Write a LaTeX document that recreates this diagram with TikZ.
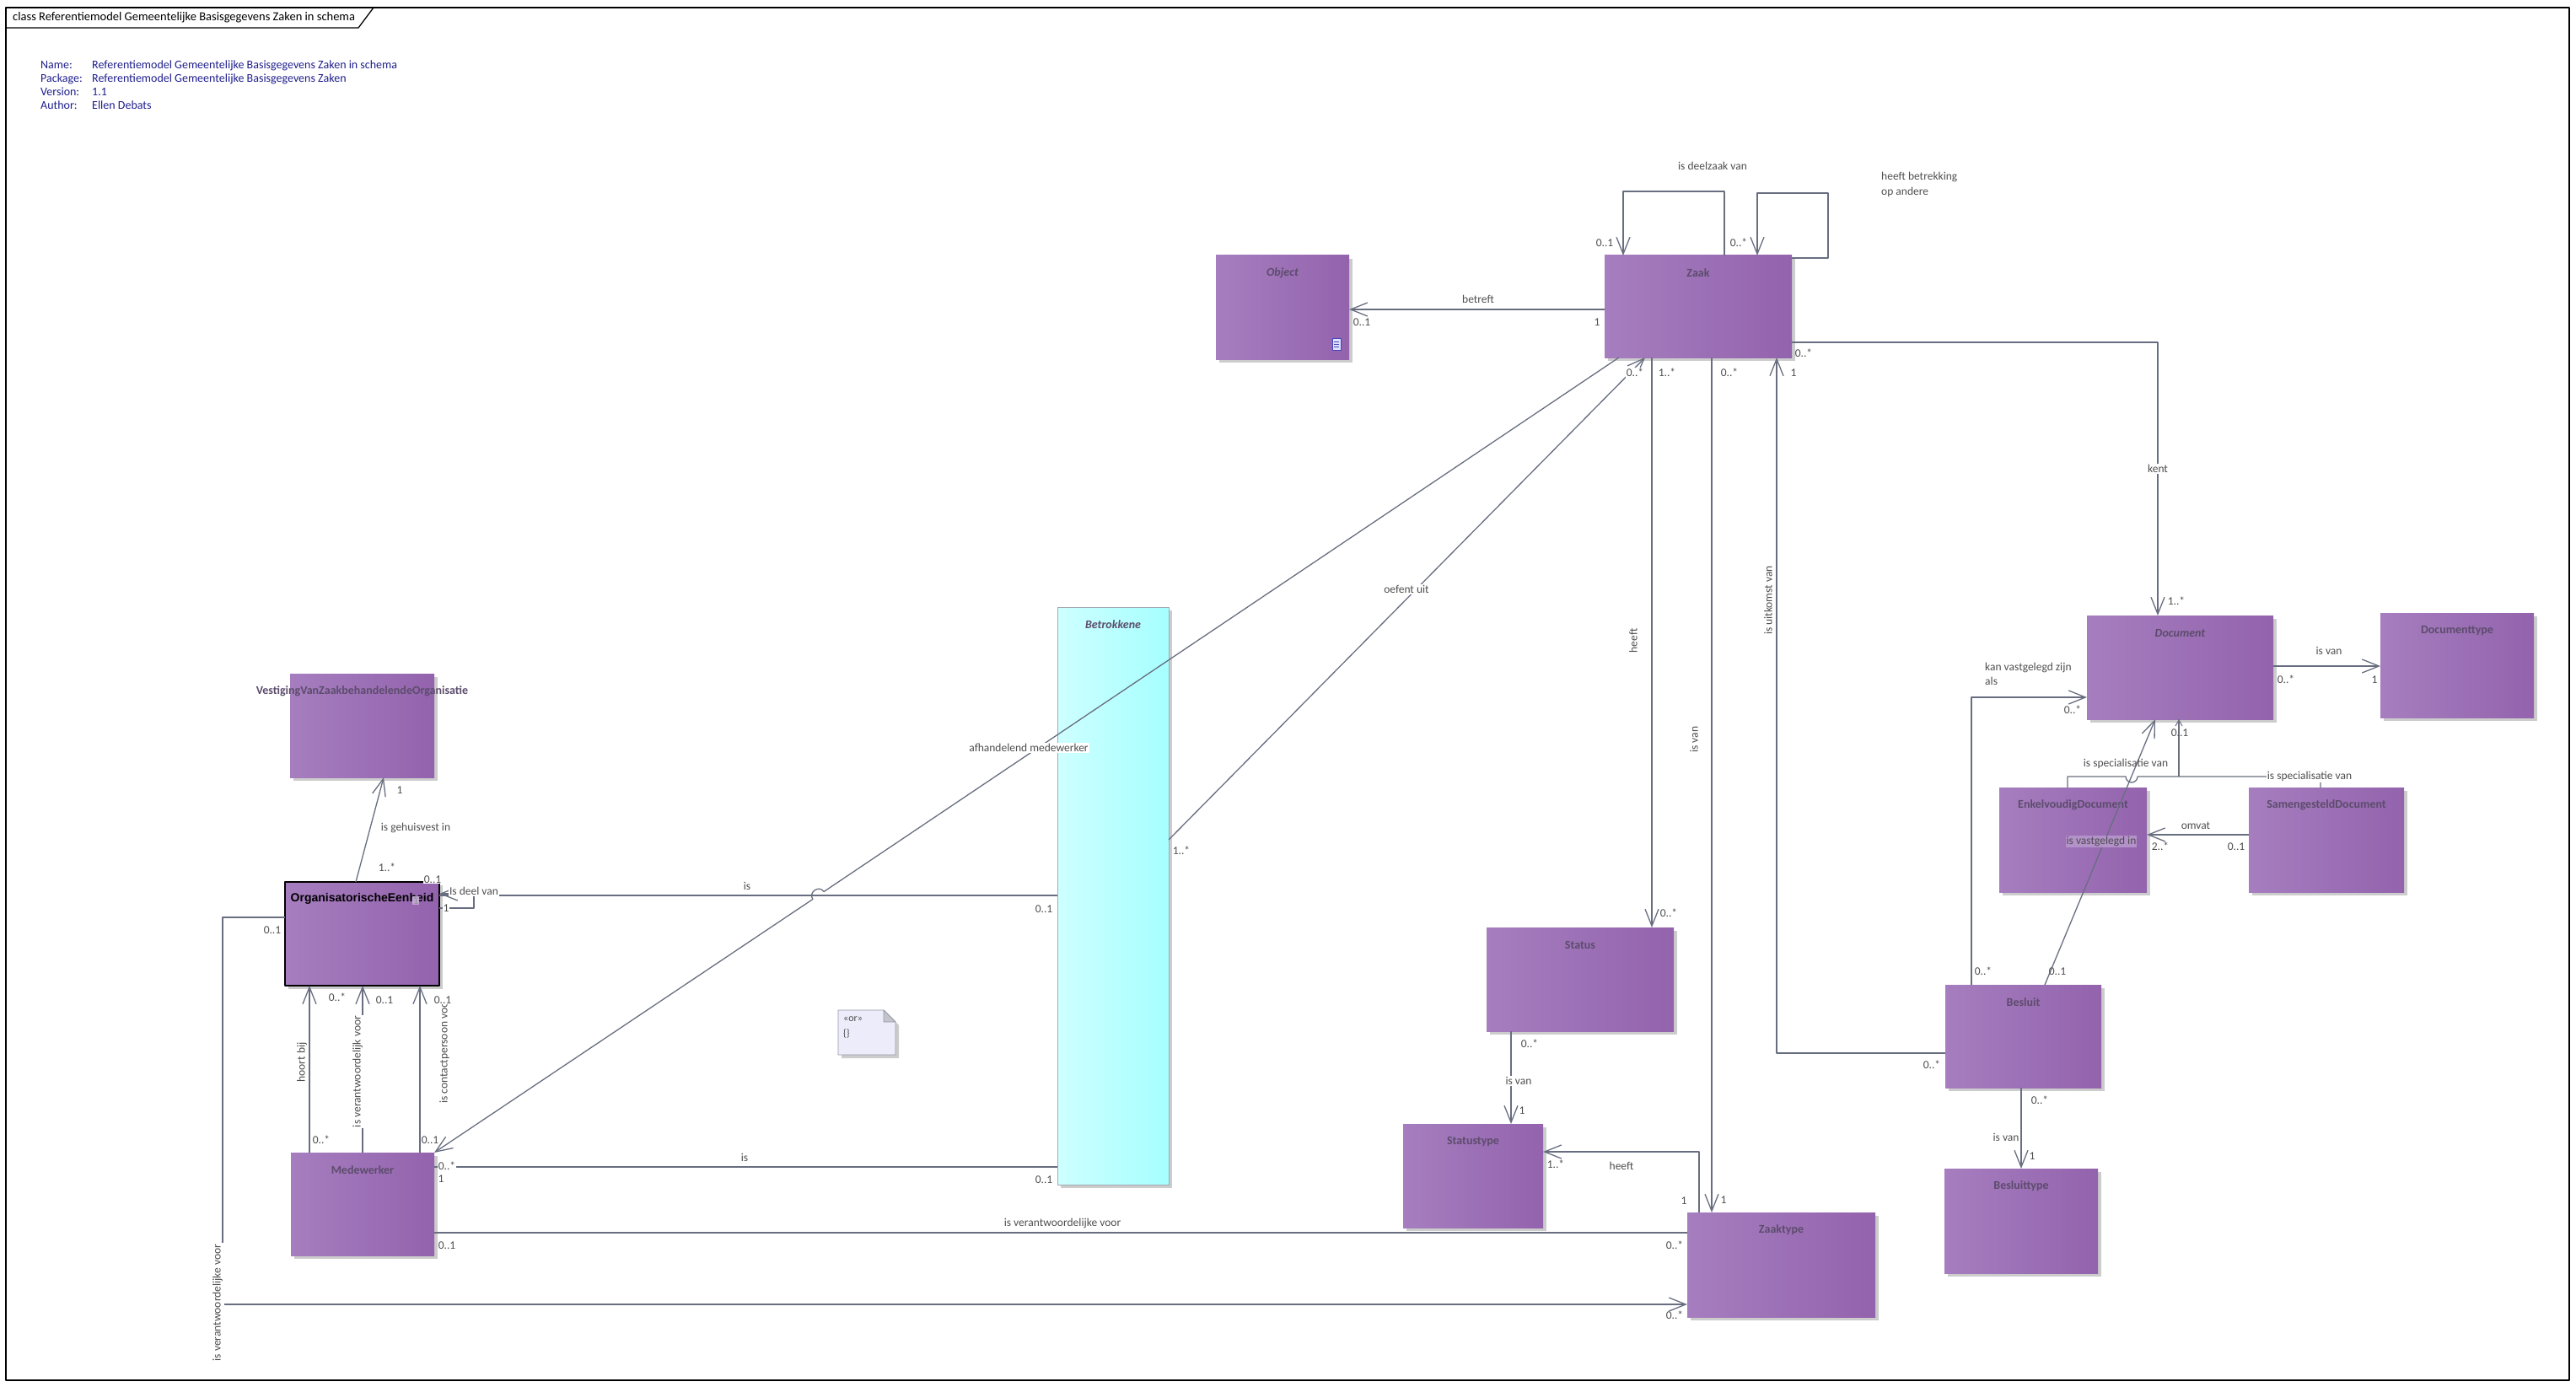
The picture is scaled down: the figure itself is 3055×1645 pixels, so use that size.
\documentclass[tikz,border=0pt]{standalone}
\usepackage{fontspec}
\setmainfont{Carlito}
\newfontfamily\arialfont{Liberation Sans}
\usetikzlibrary{arrows.meta,shadows}
\definecolor{paarsL}{RGB}{166,126,191}
\definecolor{paarsR}{RGB}{147,99,173}
\definecolor{cyaanL}{RGB}{206,255,255}
\definecolor{cyaanR}{RGB}{166,255,255}
\definecolor{lijn}{RGB}{104,110,128}
\definecolor{tekst}{RGB}{78,78,78}
\definecolor{titelkleur}{RGB}{92,76,108}
\definecolor{schaduw}{RGB}{204,204,204}
\definecolor{inkt}{RGB}{30,30,140}
\definecolor{notitie}{RGB}{236,236,250}
\begin{document}
\begin{tikzpicture}[x=1pt, y=-1pt, font=\fontsize{13.5}{16}\selectfont, line join=round, >={Straight Barb[length=20pt,width=16pt]}]
	\tikzset{klasse/.style n args={2}{rectangle, inner sep=0pt, outer sep=0pt, anchor=north west, minimum width=#1, minimum height=#2, left color=paarsL, right color=paarsR, drop shadow={shadow xshift=4pt, shadow yshift=-4pt, fill=schaduw, opacity=1}},
		titel/.style={label={[font=\fontsize{14}{16}\selectfont\bfseries, text=titelkleur, anchor=center, yshift=-21pt]north:#1}},
		schuintitel/.style={label={[font=\fontsize{14}{16}\selectfont\bfseries\itshape, text=titelkleur, anchor=center, yshift=-21pt]north:#1}},
		kopregel/.style={anchor=base west, inner sep=0pt, text=inkt, font=\fontsize{14}{16}\selectfont},
		assoc/.style={draw=lijn, line width=1.3pt},
		pijl/.style={assoc, ->},
		mult/.style={text=tekst, inner sep=1pt},
		wit/.style={mult, fill=white}}
	\useasboundingbox (0,0) rectangle (3055,1645);
	% kader
	\draw[line width=1.3pt] (7,9) rectangle (3047,1637);
	\draw[line width=1.3pt] (7,33) -- (425,33) -- (443,9);
	\node[anchor=west, inner sep=0pt, font=\fontsize{14.5}{16}\selectfont] (kop) at (15,21) {class Referentiemodel Gemeentelijke Basisgegevens Zaken in schema};
	\node[kopregel] (naam) at (48,82) {\makebox[61pt][l]{Name:}Referentiemodel Gemeentelijke Basisgegevens Zaken in schema};
	\node[kopregel] (pakket) at (48,98) {\makebox[61pt][l]{Package:}Referentiemodel Gemeentelijke Basisgegevens Zaken};
	\node[kopregel] (versie) at (48,114) {\makebox[61pt][l]{Version:}1.1};
	\node[kopregel] (auteur) at (48,130) {\makebox[61pt][l]{Author:}Ellen Debats};

	% klassen
	\node[klasse={158pt}{123pt}, schuintitel=Object] (object) at (1442,303) {};
	\node[klasse={222pt}{121pt}, titel=Zaak] (zaak) at (1903,303) {};
	\node[klasse={221pt}{123pt}, schuintitel=Document] (document) at (2475,730) {};
	\node[klasse={182pt}{124pt}, titel=Documenttype] (doctype) at (2823,727) {};
	\node[klasse={175pt}{124pt}, titel=EnkelvoudigDocument] (enkel) at (2371,934) {};
	\node[klasse={184pt}{124pt}, titel=SamengesteldDocument] (samen) at (2667,934) {};
	\node[klasse={185pt}{122pt}, titel=Besluit] (besluit) at (2307,1168) {};
	\node[klasse={182pt}{124pt}, titel=Besluittype] (besluittype) at (2306,1386) {};
	\node[klasse={222pt}{123pt}, titel=Status] (status) at (1763,1100) {};
	\node[klasse={166pt}{123pt}, titel=Statustype] (statustype) at (1664,1333) {};
	\node[klasse={223pt}{124pt}, titel=Zaaktype] (zaaktype) at (2001,1438) {};
	\node[klasse={171pt}{123pt}, titel=VestigingVanZaakbehandelendeOrganisatie] (vestiging) at (344,799) {};
	\node[klasse={183pt}{123pt}, draw=black, line width=1.6pt, label={[font={\arialfont\bfseries\fontsize{14}{16}\selectfont}, text=black, anchor=center, yshift=-20pt]north:OrganisatorischeEenheid}] (oe) at (338,1046) {};
	\node[klasse={170pt}{122pt}, titel=Medewerker] (medewerker) at (345,1367) {};
	\node[klasse={132pt}{685pt}, left color=cyaanL, right color=cyaanR, draw=lijn!60, line width=0.8pt, schuintitel=Betrokkene] (betrokkene) at (1254,720) {};

	% icoon en notitie
	\draw[fill=blue!12, draw=blue!45!gray, line width=0.8pt] (1580,401) rectangle (1590,415);
	\draw[blue!45!gray, line width=0.8pt] (1582,405) -- (1588,405) (1582,408) -- (1588,408) (1582,411) -- (1588,411);
	\fill[schaduw] (998,1202) -- (1052,1202) -- (1066,1216) -- (1066,1255) -- (998,1255) -- cycle;
	\draw[fill=notitie, draw=lijn!70, line width=0.8pt] (994,1198) -- (1048,1198) -- (1062,1212) -- (1062,1251) -- (994,1251) -- cycle;
	\draw[fill=lijn!40, draw=lijn!70, line width=0.8pt] (1048,1198) -- (1048,1212) -- (1062,1212) -- cycle;
	\node[anchor=west, mult, font=\fontsize{12}{14}\selectfont] (ornaam) at (999,1209) {«or»};
	\node[anchor=west, mult, font=\fontsize{12}{14}\selectfont] (orinhoud) at (999,1226) {\{\}};

	% associaties
	\draw[pijl] (zaak.west |- 0,367) -- (object.east |- 0,367);
	\draw[pijl] (2045,0 |- zaak.north) -- (2045,227) -- (1925,227) -- (1925,0 |- zaak.north);
	\draw[pijl] (zaak.east |- 0,306) -- (2168,306) -- (2168,229) -- (2084,229) -- (2084,0 |- zaak.north);
	\draw[pijl] (zaak.east |- 0,406) -- (2559,406) -- (2559,0 |- document.north);
	\draw[pijl] (1959,0 |- zaak.south) -- (1959,0 |- status.north);
	\draw[pijl] (2030,0 |- zaak.south) -- (2030,0 |- zaaktype.north);
	\draw[pijl] (besluit.west |- 0,1249) -- (2107,1249) -- (2107,0 |- zaak.south);
	\draw[pijl] (1920,0 |- zaak.south) -- (977.1,1057.5) .. controls (971.5,1049.2) and (958.3,1058.2) .. (963.9,1066.5) -- (medewerker.north east);
	\draw[pijl] (betrokkene.east |- 0,996) -- (1951,0 |- zaak.south);
	\draw[assoc] (betrokkene.west |- 0,1062) -- (oe.east |- 0,1062);
	\draw[assoc] (betrokkene.west |- 0,1384) -- (medewerker.east |- 0,1384);
	\draw[pijl] (oe.east |- 0,1077) -- (562,1077) -- (562,1060) -- (oe.east |- 0,1060);
	\draw[pijl] (422,0 |- oe.north) -- (455,0 |- vestiging.south);
	\draw[pijl] (367,0 |- medewerker.north) -- (367,0 |- oe.south);
	\draw[pijl] (430,0 |- medewerker.north) -- (430,0 |- oe.south);
	\draw[pijl] (498,0 |- medewerker.north) -- (498,0 |- oe.south);
	\draw[pijl] (oe.west |- 0,1088) -- (264,1088) -- (264,1547) -- (zaaktype.west |- 0,1547);
	\draw[assoc] (medewerker.east |- 0,1462) -- (zaaktype.west |- 0,1462);
	\draw[pijl] (1792,0 |- status.south) -- (1792,0 |- statustype.north);
	\draw[pijl] (2015,0 |- zaaktype.north) -- (2015,1366) -- (statustype.east |- 0,1366);
	\draw[pijl] (2397,0 |- besluit.south) -- (2397,0 |- besluittype.north);
	\draw[pijl] (2338,0 |- besluit.north) -- (2338,827) -- (document.west |- 0,827);
	\draw[pijl] (document.east |- 0,790) -- (doctype.west |- 0,790);
	\draw[pijl] (samen.west |- 0,990) -- (enkel.east |- 0,990);
	% specialisatie
	\draw[assoc] (2452,0 |- enkel.north) -- (2452,921) -- (2521,921) arc[start angle=180, end angle=0, radius=7] -- (2752,921) -- (2752,0 |- samen.north);
	\draw[assoc] (2584,921) -- (2584,0 |- document.south);
	\draw[assoc, line width=1pt] (2580,861) -- (2584,854) -- (2588,861);
	\draw[pijl] (2425,0 |- besluit.north) -- (2556,0 |- document.south);

	% teksten bij Zaak
	\node[mult] (ldeelzaak) at (2031,197) {is deelzaak van};
	\node[mult, anchor=west, align=left, font=\fontsize{13.5}{18}\selectfont] (lbetrekking) at (2230,219) {heeft betrekking\\op andere};
	\node[mult] (mdeel1) at (1903,288) {0..1};
	\node[mult] (mdeel2) at (2062,288) {0..*};
	\node[mult] (lbetreft) at (1753,355) {betreft};
	\node[mult] (mobject) at (1615,382) {0..1};
	\node[mult] (mzaak) at (1894,382) {1};
	\node[mult] (mkent1) at (2139,419) {0..*};
	\node[wit] (moefent1) at (1939,442) {0..*};
	\node[mult] (mheeft1) at (1977,442) {1..*};
	\node[mult] (misvan1) at (2051,442) {0..*};
	\node[mult] (muitkomst1) at (2127,442) {1};
	\node[wit] (lkent) at (2559,556) {kent};
	\node[mult] (mkent2) at (2581,713) {1..*};
	\node[mult, rotate=90] (lheeft) at (1937,760) {heeft};
	\node[mult, rotate=90] (lisvan) at (2009,877) {is van};
	\node[mult, rotate=90] (luitkomst) at (2097,712) {is uitkomst van};
	\node[wit] (loefent) at (1668,699) {oefent uit};
	\node[mult] (moefent2) at (1401,1009) {1..*};
	\node[wit] (lafhandelend) at (1220,887) {afhandelend medewerker};
	% teksten links
	\node[mult] (lis1) at (886,1051) {is};
	\node[mult] (mis1b) at (1238,1078) {0..1};
	\node[mult, fill=paarsL!70!white, text=tekst!60] (mis1o) at (493,1068) {1};
	\node[mult] (lis2) at (883,1373) {is};
	\node[mult] (mis2b) at (1238,1399) {0..1};
	\node[wit] (mis2m) at (530,1383) {0..*};
	\node[mult] (mis2m1) at (523,1398) {1};
	\node[wit] (mdeel3) at (513,1043) {0..1};
	\node[wit] (ldeelvan) at (562,1057) {Is deel van};
	\node[wit] (mdeel4) at (529,1077) {1};
	\node[mult] (mvest1) at (474,937) {1};
	\node[mult] (lgehuisvest) at (493,982) {is gehuisvest in};
	\node[mult] (mvest2) at (459,1029) {1..*};
	\node[mult] (mhoort1) at (400,1183) {0..*};
	\node[mult] (mhoort2) at (381,1352) {0..*};
	\node[mult, rotate=90] (lhoort) at (358,1260) {hoort bij};
	\node[mult] (mverantw1) at (456,1186) {0..1};
	\node[wit, rotate=90] (lverantw) at (424,1271) {is verantwoordelijk voor};
	\node[mult, rotate=90, anchor=west] (lcontact) at (527,1310) {is contactpersoon voor};
	\node[wit] (mcontact1) at (525,1186) {0..1};
	\node[mult] (mcontact2) at (510,1352) {0..1};
	\node[mult] (moezt1) at (323,1103) {0..1};
	\node[wit, rotate=90, inner sep=2pt] (loezt) at (258,1545) {is verantwoordelijke voor};
	\node[mult] (moezt2) at (1986,1560) {0..*};
	\node[mult] (mmzt1) at (530,1477) {0..1};
	\node[mult] (lmzt) at (1260,1451) {is verantwoordelijke voor};
	\node[mult] (mmzt2) at (1986,1477) {0..*};
	% teksten bij Status en Zaaktype
	\node[mult] (mstatus1) at (1979,1083) {0..*};
	\node[mult] (msst1) at (1814,1238) {0..*};
	\node[wit] (lsst) at (1801,1282) {is van};
	\node[mult] (msst2) at (1805,1317) {1};
	\node[mult] (mzst1) at (1845,1381) {1..*};
	\node[mult] (lzst) at (1923,1383) {heeft};
	\node[mult] (mzst2) at (1997,1424) {1};
	\node[mult] (mzaaktype) at (2044,1423) {1};
	% teksten bij Besluit en Document
	\node[mult] (mbesluit1) at (2352,1152) {0..*};
	\node[mult] (mbesluit2) at (2440,1152) {0..1};
	\node[mult] (muitkomst2) at (2291,1263) {0..*};
	\node[mult] (mbbt1) at (2419,1305) {0..*};
	\node[mult] (lbbt) at (2379,1349) {is van};
	\node[mult] (mbbt2) at (2410,1371) {1};
	\node[mult, anchor=west, align=left, font=\fontsize{13.5}{17}\selectfont] (lkanvast) at (2353,799) {kan vastgelegd zijn\\als};
	\node[mult] (mkanvast) at (2458,842) {0..*};
	\node[mult, fill=paarsL!85!white] (lvastin) at (2492,998) {is vastgelegd in};
	\node[mult] (lspec1) at (2521,906) {is specialisatie van};
	\node[mult] (mspec) at (2585,869) {0..1};
	\node[wit] (lspec2) at (2739,921) {is specialisatie van};
	\node[mult] (ldocvan) at (2762,772) {is van};
	\node[mult] (mdoc1) at (2711,806) {0..*};
	\node[mult] (mdoc2) at (2816,806) {1};
	\node[mult] (lomvat) at (2604,979) {omvat};
	\node[mult] (momvat1) at (2562,1004) {2..*};
	\node[mult] (momvat2) at (2652,1004) {0..1};
\end{tikzpicture}
\end{document}
